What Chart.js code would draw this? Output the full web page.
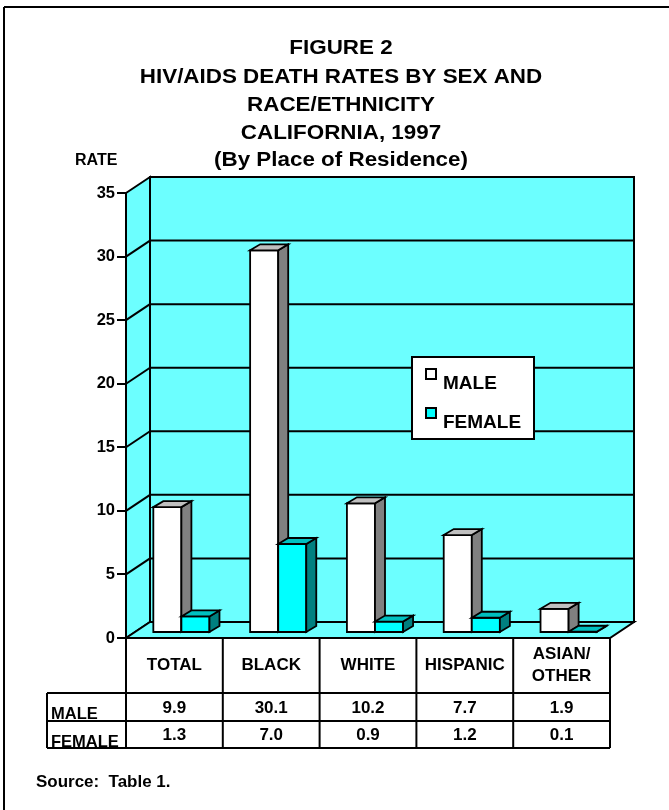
<!DOCTYPE html>
<html>
<head>
<meta charset="utf-8">
<script src="https://cdn.jsdelivr.net/npm/chart.js@4.4.1/dist/chart.umd.min.js"></script>
<style>
  html, body { margin: 0; padding: 0; background: #fff; }
  canvas { display: block; }
</style>
</head>
<body>
<canvas id="rateChart" width="669" height="810"></canvas>
<script>
// data
const categories = [['TOTAL'], ['BLACK'], ['WHITE'], ['HISPANIC'], ['ASIAN/', 'OTHER']];
const seriesNames = ['MALE', 'FEMALE'];
const maleRates = [9.9, 30.1, 10.2, 7.7, 1.9];
const femaleRates = [1.3, 7.0, 0.9, 1.2, 0.1];
const yTicks = [0, 5, 10, 15, 20, 25, 30, 35];
const titleLines = ['FIGURE 2', 'HIV/AIDS DEATH RATES BY SEX AND', 'RACE/ETHNICITY', 'CALIFORNIA, 1997', '(By Place of Residence)'];
const axisTitle = 'RATE';
const sourceNote = 'Source:  Table 1.';

const FONT = '"Liberation Sans", Arial, Helvetica, sans-serif';
const WALL = '#6CFFFF';
const DEPTH_X = 24, DEPTH_Y = 16;   // depth of the box walls
const BAR_DX = 7, BAR_DY = 5;       // bars stand a bit behind the front edge
const SIDE_X = 10, SIDE_Y = 6;      // thickness of each bar

const barColors = [
    { front: '#FFFFFF', side: '#808080', top: '#C0C0C0' },
    { front: '#00FFFF', side: '#008080', top: '#00C0C0' }
];

function poly(ctx, pts) {
    ctx.beginPath();
    ctx.moveTo(pts[0][0], pts[0][1]);
    for (let i = 1; i < pts.length; i++) ctx.lineTo(pts[i][0], pts[i][1]);
    ctx.closePath();
    ctx.fill();
    ctx.stroke();
}

function line(ctx, x1, y1, x2, y2) {
    ctx.beginPath();
    ctx.moveTo(x1, y1);
    ctx.lineTo(x2, y2);
    ctx.stroke();
}

// the original lettering is a little wider than it is tall
function wideText(ctx, text, x, y, sx) {
    ctx.save();
    ctx.translate(x, y);
    ctx.scale(sx, 1);
    ctx.fillText(text, 0, 0);
    ctx.restore();
}

// walls, floor and grid behind the bars
const wallsPlugin = {
    id: 'walls',
    beforeDraw(chart) {
        const { ctx, chartArea: a } = chart;
        const y = chart.scales.y;
        ctx.save();
        ctx.strokeStyle = '#000';
        ctx.lineWidth = 2;
        // page frame (right and bottom edges fall outside the picture)
        line(ctx, 4, 810, 4, 7);
        line(ctx, 4, 7, 669, 7);

        ctx.fillStyle = WALL;
        poly(ctx, [[a.left, a.top], [a.left + DEPTH_X, a.top - DEPTH_Y],
                   [a.left + DEPTH_X, a.bottom - DEPTH_Y], [a.left, a.bottom]]);
        poly(ctx, [[a.left + DEPTH_X, a.top - DEPTH_Y], [a.right + DEPTH_X, a.top - DEPTH_Y],
                   [a.right + DEPTH_X, a.bottom - DEPTH_Y], [a.left + DEPTH_X, a.bottom - DEPTH_Y]]);
        poly(ctx, [[a.left, a.bottom], [a.left + DEPTH_X, a.bottom - DEPTH_Y],
                   [a.right + DEPTH_X, a.bottom - DEPTH_Y], [a.right, a.bottom]]);

        yTicks.forEach(v => {
            if (v === 0 || v === 35) return;
            const py = y.getPixelForValue(v);
            line(ctx, a.left, py, a.left + DEPTH_X, py - DEPTH_Y);
            line(ctx, a.left + DEPTH_X, py - DEPTH_Y, a.right + DEPTH_X, py - DEPTH_Y);
        });
        ctx.restore();
    },

    afterDatasetsDraw(chart) {
        const ctx = chart.ctx;
        ctx.save();
        ctx.strokeStyle = '#000';
        ctx.lineWidth = 1.8;
        chart.data.datasets.forEach((ds, di) => {
            const c = barColors[di];
            chart.getDatasetMeta(di).data.forEach(bar => {
                const x0 = bar.x - bar.width / 2 + BAR_DX;
                const x1 = bar.x + bar.width / 2 + BAR_DX;
                const yt = bar.y - BAR_DY;
                const yb = bar.base - BAR_DY;
                ctx.fillStyle = c.front;
                poly(ctx, [[x0, yt], [x1, yt], [x1, yb], [x0, yb]]);
                ctx.fillStyle = c.side;
                poly(ctx, [[x1, yb], [x1, yt], [x1 + SIDE_X, yt - SIDE_Y], [x1 + SIDE_X, yb - SIDE_Y]]);
                ctx.fillStyle = c.top;
                poly(ctx, [[x0, yt], [x0 + SIDE_X, yt - SIDE_Y], [x1 + SIDE_X, yt - SIDE_Y], [x1, yt]]);
            });
        });
        ctx.restore();
    },

    afterDraw(chart) {
        const { ctx, chartArea: a } = chart;
        const x = chart.scales.x;
        ctx.save();
        ctx.fillStyle = '#000';
        ctx.strokeStyle = '#000';

        // title
        ctx.textAlign = 'center';
        ctx.textBaseline = 'middle';
        ctx.font = 'bold 20px ' + FONT;
        const titleY = [48, 77, 105, 133, 160];
        titleLines.forEach((t, i) => wideText(ctx, t, 341, titleY[i], 1.12));

        ctx.textAlign = 'left';
        ctx.font = 'bold 16px ' + FONT;
        ctx.fillText(axisTitle, 75, 161);

        // legend
        ctx.lineWidth = 2;
        ctx.fillStyle = '#fff';
        ctx.fillRect(412, 357, 122, 82);
        ctx.strokeRect(412, 357, 122, 82);
        ctx.font = 'bold 19px ' + FONT;
        ctx.textBaseline = 'alphabetic';
        seriesNames.forEach((name, i) => {
            const sy = 369 + i * 39;
            ctx.fillStyle = barColors[i].front;
            ctx.fillRect(426, sy, 10, 10);
            ctx.strokeRect(426, sy, 10, 10);
            ctx.fillStyle = '#000';
            ctx.fillText(name, 443, sy + 20);
        });

        // data table under the chart
        const step = x.getPixelForValue(1) - x.getPixelForValue(0);
        const headTop = a.bottom, headBot = 693, row1 = 721, row2 = 748, tableLeft = 47;
        ctx.lineWidth = 2;
        line(ctx, a.left, headTop, a.left, row2);
        categories.forEach((lab, i) => {
            const cx = x.getPixelForValue(i);
            line(ctx, cx + step / 2, headTop, cx + step / 2, row2);
        });
        line(ctx, tableLeft, headBot, a.right, headBot);
        line(ctx, tableLeft, row1, a.right, row1);
        line(ctx, tableLeft, row2, a.right, row2);
        line(ctx, tableLeft, headBot, tableLeft, row2);

        ctx.textAlign = 'center';
        ctx.textBaseline = 'middle';
        ctx.font = 'bold 17px ' + FONT;
        categories.forEach((lab, i) => {
            const cx = x.getPixelForValue(i);
            const mid = (headTop + headBot) / 2;
            lab.forEach((t, k) => ctx.fillText(t, cx, mid + (k - (lab.length - 1) / 2) * 22));
            ctx.fillText(maleRates[i].toFixed(1), cx, 708);
            ctx.fillText(femaleRates[i].toFixed(1), cx, 735);
        });
        ctx.textAlign = 'left';
        ctx.textBaseline = 'alphabetic';
        ctx.font = 'bold 16.5px ' + FONT;
        ctx.fillText(seriesNames[0], 51, 719);
        ctx.fillText(seriesNames[1], 51, 747);

        ctx.font = 'bold 16px ' + FONT;
        ctx.textBaseline = 'middle';
        wideText(ctx, sourceNote, 36, 783, 1.06);
        ctx.restore();
    }
};

const chart = new Chart(document.getElementById('rateChart'), {
    type: 'bar',
    data: {
        labels: categories,
        datasets: [{
            label: seriesNames[0],
            data: maleRates,
            backgroundColor: 'rgba(0,0,0,0)',
            borderWidth: 0
        }, {
            label: seriesNames[1],
            data: femaleRates,
            backgroundColor: 'rgba(0,0,0,0)',
            borderWidth: 0
        }]
    },
    options: {
        responsive: false,
        animation: false,
        layout: { padding: { top: 193, right: 59, bottom: 172, left: 0 } },
        datasets: { bar: { categoryPercentage: 0.58, barPercentage: 1 } },
        plugins: {
            legend: { display: false },
            title: { display: false },
            tooltip: { enabled: false }
        },
        scales: {
            x: { display: false, offset: true },
            y: {
                min: 0,
                max: 35,
                afterFit(scale) { scale.width = 126; },
                afterBuildTicks(scale) { scale.ticks = yTicks.map(v => ({ value: v })); },
                ticks: {
                    color: '#000',
                    padding: 2,
                    font: { family: FONT, size: 16.5, weight: 'bold' }
                },
                grid: {
                    drawOnChartArea: false,
                    drawTicks: true,
                    tickLength: 9,
                    color: '#000',
                    lineWidth: 2
                },
                border: { display: true, color: '#000', width: 2 }
            }
        }
    },
    plugins: [wallsPlugin]
});
</script>
</body>
</html>
